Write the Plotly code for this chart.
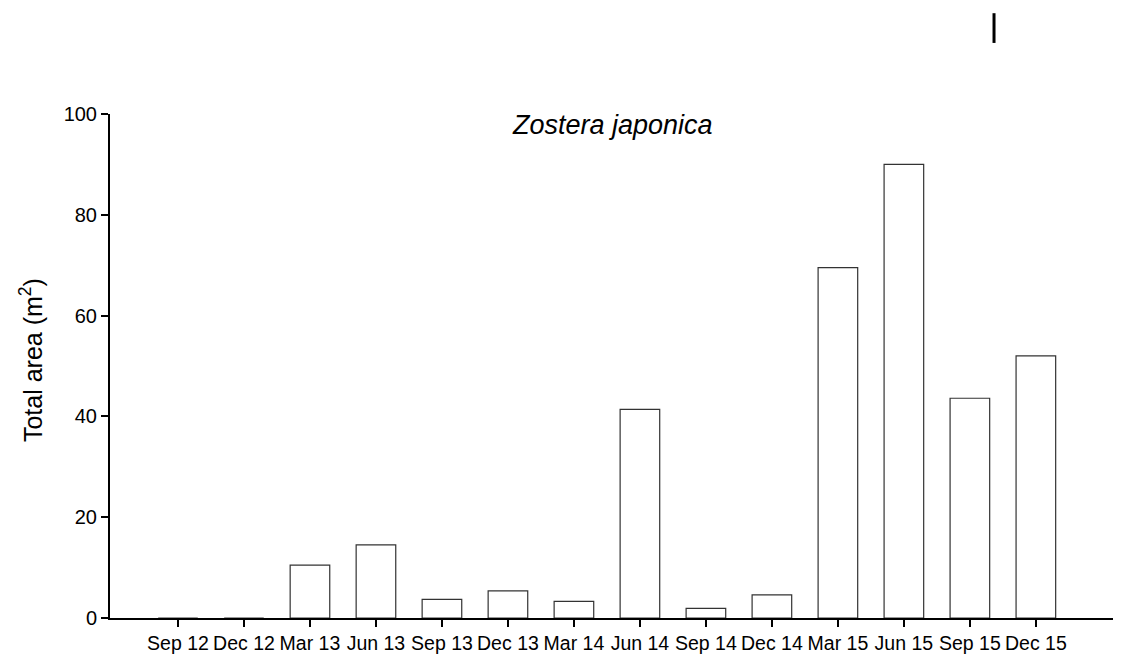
import plotly.graph_objects as go

categories = ["Sep 12", "Dec 12", "Mar 13", "Jun 13", "Sep 13", "Dec 13", "Mar 14",
              "Jun 14", "Sep 14", "Dec 14", "Mar 15", "Jun 15", "Sep 15", "Dec 15"]
total_area = [0, 0, 10.5, 14.5, 3.7, 5.4, 3.3, 41.4, 1.9, 4.6, 69.5, 90.0, 43.6, 52.0]
y_ticks = [0, 20, 40, 60, 80, 100]

FONT = "Liberation Sans, Arial, sans-serif"

fig = go.Figure()
fig.add_trace(go.Bar(
    x=list(range(len(categories))),
    y=total_area,
    width=0.6,
    marker=dict(color="white", line=dict(color="#333333", width=1.2)),
    showlegend=False,
))

fig.update_layout(
    width=1113, height=648,
    margin=dict(l=102, r=0, t=106, b=38),
    plot_bgcolor="white", paper_bgcolor="white",
    font=dict(family=FONT, color="black"),
    xaxis=dict(
        tickmode="array",
        tickvals=list(range(len(categories))),
        ticktext=categories,
        range=[-1.03, 14.29],
        showline=True, linecolor="black", linewidth=2,
        ticks="outside", ticklen=7, tickwidth=2, tickcolor="black",
        showgrid=False, zeroline=False, automargin=False,
        tickfont=dict(size=19.5, family=FONT),
    ),
    yaxis=dict(
        range=[0, 100],
        tickvals=y_ticks,
        showline=True, linecolor="black", linewidth=2,
        ticks="outside", ticklen=7, tickwidth=2, tickcolor="black",
        showgrid=False, zeroline=False, automargin=False,
        tickfont=dict(size=20, family=FONT),
    ),
    annotations=[
        dict(text="<i>Zostera japonica</i>", x=0.497, y=0.978, xref="paper", yref="paper",
             xanchor="center", yanchor="middle", showarrow=False,
             font=dict(size=27, family=FONT)),
        dict(text="Total area (m<sup>2</sup>)", x=-0.078, y=0.512, xref="paper", yref="paper",
             xanchor="center", yanchor="middle", textangle=-90, showarrow=False,
             font=dict(size=25, family=FONT)),
    ],
    shapes=[
        dict(type="line", xref="paper", yref="paper", x0=0.8744, x1=0.8744, y0=1.141, y1=1.2,
             line=dict(color="black", width=3)),
    ],
)

fig.write_html("out.html")
